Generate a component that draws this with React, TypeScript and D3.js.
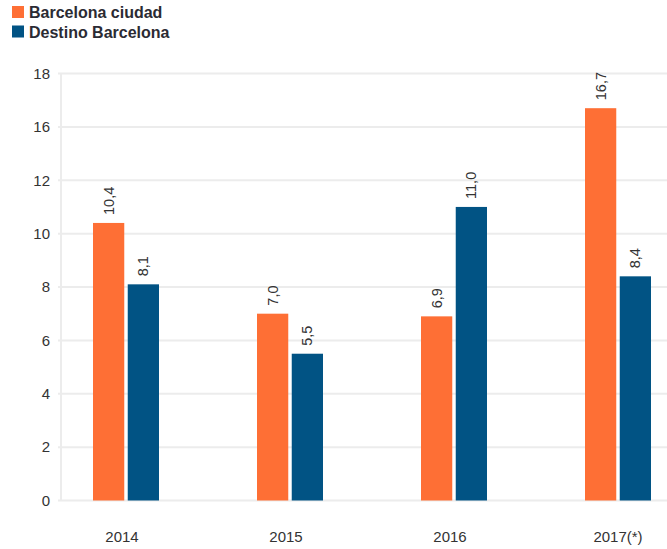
import React from "react";
import * as d3 from "d3";

const categories = ["2014", "2015", "2016", "2017(*)"];
const seriesNames = ["Barcelona ciudad", "Destino Barcelona"];
const barcelonaCiudad = [10.4, 7.0, 6.9, 16.7];
const destinoBarcelona = [8.1, 5.5, 11.0, 8.4];
const yTickValues = [0, 2, 4, 6, 8, 10, 12, 16, 18];
const colors = ["#fe6f35", "#015384"];

const W = 667;
const H = 549;
const plotTop = 73.5;
const plotBottom = 500.5;
const plotLeft = 61;

export default function App() {
  const series = [barcelonaCiudad, destinoBarcelona];
  const step = (plotBottom - plotTop) / (yTickValues.length - 1);
  const y = d3
    .scaleLinear()
    .domain(yTickValues)
    .range(yTickValues.map((_, i) => plotBottom - i * step));
  const x0 = d3.scaleBand().domain(categories).range([44, 700]).padding(0);
  const groupW = 66;
  const x1 = d3
    .scaleBand()
    .domain(seriesNames)
    .range([0, groupW])
    .paddingInner(0.1);
  const fmt = (v: number) => v.toFixed(1).replace(".", ",");
  const font = "'Liberation Sans', Arial, Helvetica, sans-serif";

  return (
    <svg
      width={W}
      height={H}
      style={{ position: "absolute", left: 0, top: 0, fontFamily: font }}
    >
      <rect width={W} height={H} fill="#fff" />
      {/* legend */}
      {seriesNames.map((name, i) => (
        <g key={name} transform={`translate(12, ${6 + i * 19.5})`}>
          <rect width={12} height={12} fill={colors[i]} />
          <text x={17} y={12} fontSize={16} fontWeight="bold" fill="#2b2b33">
            {name}
          </text>
        </g>
      ))}
      {/* gridlines */}
      {yTickValues.map((t) => (
        <line
          key={t}
          x1={58}
          x2={W}
          y1={y(t)}
          y2={y(t)}
          stroke="#ececec"
          strokeWidth={2}
        />
      ))}
      <line
        x1={plotLeft}
        x2={plotLeft}
        y1={plotTop}
        y2={plotBottom}
        stroke="#ececec"
        strokeWidth={2}
      />
      {/* y tick labels */}
      {yTickValues.map((t) => (
        <text
          key={t}
          x={50}
          y={y(t)}
          dy="0.35em"
          textAnchor="end"
          fontSize={15}
          fill="#333"
        >
          {t}
        </text>
      ))}
      {/* bars */}
      {categories.map((c, ci) => {
        const gx = (x0(c) as number) + x0.bandwidth() / 2 - groupW / 2;
        return (
          <g key={c} transform={`translate(${gx},0)`}>
            {series.map((vals, si) => {
              const bx = x1(seriesNames[si]) as number;
              const bw = x1.bandwidth();
              const top = y(vals[ci]);
              return (
                <g key={si}>
                  <rect
                    x={bx}
                    y={top}
                    width={bw}
                    height={y(0) - top}
                    fill={colors[si]}
                  />
                  <text
                    transform={`translate(${bx + bw / 2},${top - 8}) rotate(-90)`}
                    dominantBaseline="central"
                    fontSize={14.5}
                    fill="#333"
                  >
                    {fmt(vals[ci])}
                  </text>
                </g>
              );
            })}
          </g>
        );
      })}
      {/* x labels */}
      {categories.map((c) => (
        <text
          key={c}
          x={(x0(c) as number) + x0.bandwidth() / 2 - (c.length > 4 ? 0 : 4)}
          y={542}
          textAnchor="middle"
          fontSize={15}
          fill="#333"
        >
          {c}
        </text>
      ))}
    </svg>
  );
}
